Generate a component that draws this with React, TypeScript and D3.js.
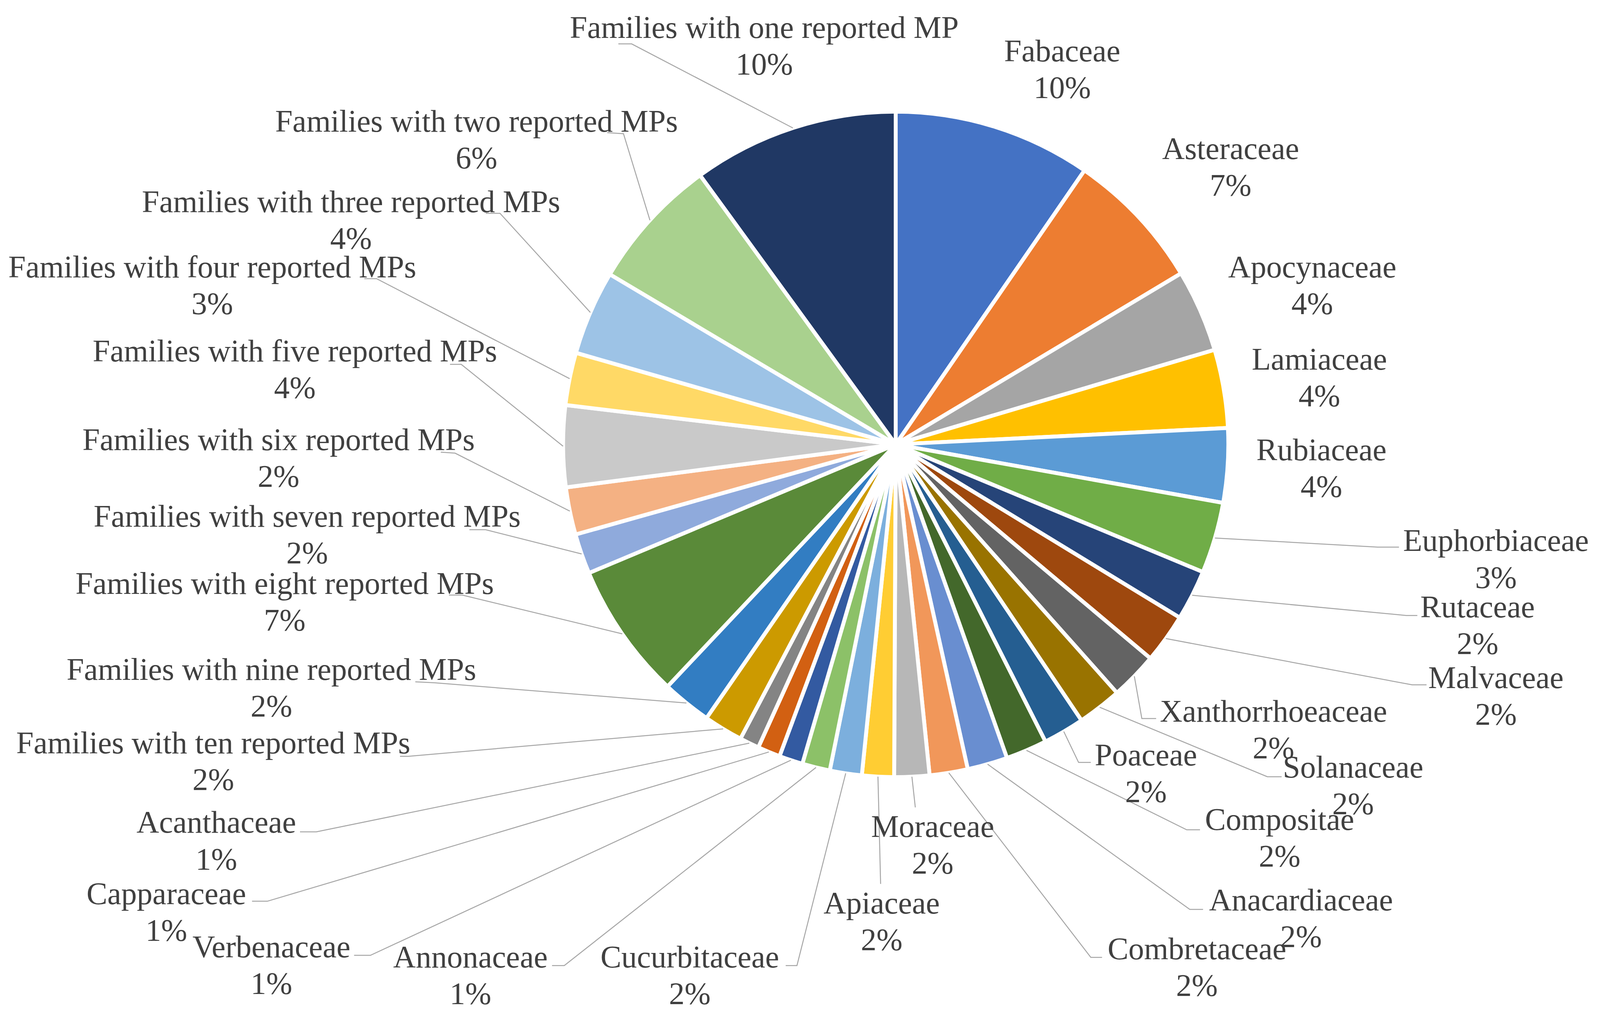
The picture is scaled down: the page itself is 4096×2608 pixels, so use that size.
import React from "react";
import * as d3 from "d3";

// slices clockwise from 12 o'clock
const families = [
  "Fabaceae", "Asteraceae", "Apocynaceae", "Lamiaceae", "Rubiaceae", "Euphorbiaceae",
  "Rutaceae", "Malvaceae", "Xanthorrhoeaceae", "Solanaceae", "Poaceae", "Compositae",
  "Anacardiaceae", "Combretaceae", "Moraceae", "Apiaceae", "Cucurbitaceae", "Annonaceae",
  "Verbenaceae", "Capparaceae", "Acanthaceae",
  "Families with ten reported MPs", "Families with nine reported MPs",
  "Families with eight reported MPs", "Families with seven reported MPs",
  "Families with six reported MPs", "Families with five reported MPs",
  "Families with four reported MPs", "Families with three reported MPs",
  "Families with two reported MPs", "Families with one reported MP",
];

// share of reported MPs (%)
const shares = [
  9.6, 6.8, 4.0, 3.8, 3.6, 3.45,
  2.45, 2.4, 2.3, 2.15, 2.0, 2.0,
  1.95, 1.85, 1.7, 1.55, 1.55, 1.35,
  1.15, 1.1, 0.95,
  1.9, 2.4, 6.65, 1.95, 2.3, 3.95, 2.55, 4.1, 6.45, 10.0,
];

const colors = [
  "#4472C4", "#ED7D31", "#A5A5A5", "#FFC000", "#5B9BD5", "#70AD47",
  "#264478", "#9E480E", "#636363", "#997300", "#255E91", "#43682B",
  "#698ED0", "#F1975A", "#B7B7B7", "#FFCD33", "#7CAFDD", "#8CC168",
  "#335AA1", "#D26012", "#848484", "#CC9A00", "#327DC2", "#5A8A39",
  "#8FAADC", "#F4B183", "#C9C9C9", "#FFD966", "#9DC3E6", "#A9D18E", "#203864",
];

// label layout, measured on a 1568px wide copy of the reference
const labelAt: [number, number][] = [
  [1041, 50], [1206, 146], [1286, 262], [1293, 352], [1295, 441], [1466, 530],
  [1448, 595], [1466, 664], [1248, 697], [1326, 752], [1123, 740], [1254, 803],
  [1275, 882], [1173, 930], [914, 810], [864, 885], [676, 938], [461, 938],
  [266, 928], [163, 876], [212, 806],
  [209, 728], [266, 656], [279, 572], [301, 506], [273, 431], [289, 344],
  [208, 262], [344, 198], [467, 119], [749, 27],
];

// leader line bends (after the point on the pie edge)
const leaders: [number, number][][] = [
  [], [], [], [], [], [[1350, 536], [1371, 536]],
  [[1378, 603], [1389, 603]], [[1384, 671], [1398, 671]], [[1119, 704], [1133, 704]],
  [[1242, 761], [1256, 761]], [[1057, 747], [1069, 747]], [[1163, 813], [1176, 813]],
  [[1166, 891], [1179, 891]], [[1069, 938], [1080, 938]], [[897, 791]], [[863, 866]],
  [[781, 946], [770, 946]], [[553, 946], [541, 946]],
  [[363, 936], [347, 936]], [[262, 883], [247, 883]], [[310, 815], [294, 815]],
  [[400, 741], [392, 741]], [[426, 669], [407, 668]], [[453, 583], [440, 583]],
  [[476, 519], [460, 519]], [[446, 444], [432, 443]], [[452, 357], [441, 357]],
  [[369, 273], [357, 273]], [[490, 209], [476, 209]], [[611, 131], [595, 130]],
  [[619, 43], [606, 43]],
];

const W = 4096;
const H = 2608;
const S = W / 1568;
const cx = 877.8 * S;
const cy = 435.4 * S;
const R = 326 * S;
const FONT = 80;

export default function App() {
  const pie = d3.pie<number>().sort(null).value((d) => d);
  const arcs = pie(shares);
  const arc = d3.arc<d3.PieArcDatum<number>>().innerRadius(0).outerRadius(R);
  const edge = d3.arc<d3.PieArcDatum<number>>().innerRadius(R).outerRadius(R);
  const total = d3.sum(shares);
  const line = d3.line();

  return (
    <svg
      width={W}
      height={H}
      viewBox={`0 0 ${W} ${H}`}
      style={{ position: "absolute", left: 0, top: 0, background: "#fff" }}
      fontFamily="'Liberation Serif', 'Times New Roman', serif"
    >
      <g transform={`translate(${cx},${cy})`}>
        {arcs.map((a, i) => (
          <path key={i} d={arc(a)!} fill={colors[i]} stroke="#fff" strokeWidth={10} strokeLinejoin="round" />
        ))}
      </g>
      <g fill="none" stroke="#A6A6A6" strokeWidth={2.5}>
        {arcs.map((a, i) => {
          if (!leaders[i].length) return null;
          const [ex, ey] = edge.centroid(a);
          const pts: [number, number][] = [[cx + ex, cy + ey], ...leaders[i].map(([x, y]) => [x * S, y * S] as [number, number])];
          return <path key={i} d={line(pts)!} />;
        })}
      </g>
      <g fill="#404040" fontSize={FONT} textAnchor="middle">
        {arcs.map((a, i) => {
          const [x, y] = labelAt[i];
          const base = y * S + 26;
          return (
            <text key={i} x={x * S} y={base}>
              <tspan x={x * S} y={base}>{families[i]}</tspan>
              <tspan x={x * S} y={base + 36 * S}>{`${Math.round((a.data / total) * 100)}%`}</tspan>
            </text>
          );
        })}
      </g>
    </svg>
  );
}
